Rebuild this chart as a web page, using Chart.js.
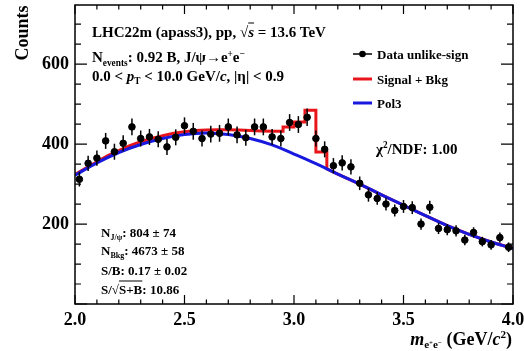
<!DOCTYPE html>
<html>
<head>
<meta charset="utf-8">
<script src="https://cdn.jsdelivr.net/npm/chart.js@4"></script>
<style>
  body { margin: 0; background: #fff; overflow: hidden; }
  #wrap { position: relative; width: 524px; height: 351px; }
  .t { position: absolute; font-family: "Liberation Serif", "Times New Roman", serif; font-weight: bold;
       color: #000; white-space: nowrap; line-height: 1; transform: translateY(-50%); }
  .t sub { font-size: 62%; vertical-align: -0.35em; }
  .t sup { font-size: 62%; vertical-align: 0.55em; }
  .ov { text-decoration: overline; }
</style>
</head>
<body>
<div id="wrap">
  <canvas id="myChart" width="524" height="351"></canvas>

  <div class="t" style="left:10px;top:33px;font-size:18px;transform:translate(0,-50%) rotate(-90deg);transform-origin:center;width:58px;margin-left:-17px;text-align:center;">Counts</div>

  <div class="t" style="left:92px;top:32px;font-size:15px;">LHC22m (apass3), pp, &#8730;<span class="ov"><i>s</i></span> = 13.6 TeV</div>
  <div class="t" style="left:92px;top:59px;font-size:15px;">N<sub>events</sub>: 0.92 B, J/&psi;&rarr;e<sup>+</sup>e<sup>&minus;</sup></div>
  <div class="t" style="left:92px;top:78px;font-size:15px;">0.0 &lt; <i>p</i><sub>T</sub> &lt; 10.0 GeV/<i>c</i>, |&eta;| &lt; 0.9</div>

  <div class="t" style="left:377px;top:54px;font-size:13px;">Data unlike-sign</div>
  <div class="t" style="left:377px;top:79px;font-size:13px;">Signal + Bkg</div>
  <div class="t" style="left:377px;top:103px;font-size:13px;">Pol3</div>

  <div class="t" style="left:376px;top:149px;font-size:15px;">&chi;<sup>2</sup>/NDF: 1.00</div>

  <div class="t" style="left:101px;top:234px;font-size:13px;">N<sub>J/&psi;</sub>: 804 &plusmn; 74</div>
  <div class="t" style="left:101px;top:252px;font-size:13px;">N<sub>Bkg</sub>: 4673 &plusmn; 58</div>
  <div class="t" style="left:101px;top:270px;font-size:13px;">S/B: 0.17 &plusmn; 0.02</div>
  <div class="t" style="left:101px;top:289px;font-size:13px;">S/&#8730;<span class="ov">S+B</span>: 10.86</div>

  <div class="t" style="right:12px;top:340px;font-size:18px;"><i>m</i><sub>e<sup>+</sup>e<sup>&minus;</sup></sub> (GeV/<i>c</i><sup>2</sup>)</div>
</div>

<script>
// invariant mass bin centres (GeV/c^2), 0.04 wide
const massBins = [2.02, 2.06, 2.10, 2.14, 2.18, 2.22, 2.26, 2.30, 2.34, 2.38,
  2.42, 2.46, 2.50, 2.54, 2.58, 2.62, 2.66, 2.70, 2.74, 2.78,
  2.82, 2.86, 2.90, 2.94, 2.98, 3.02, 3.06, 3.10, 3.14, 3.18,
  3.22, 3.26, 3.30, 3.34, 3.38, 3.42, 3.46, 3.50, 3.54, 3.58,
  3.62, 3.66, 3.70, 3.74, 3.78, 3.82, 3.86, 3.90, 3.94, 3.98];
const counts = [312, 352, 365, 408, 381, 402, 443, 414, 418, 412,
  393, 417, 446, 432, 414, 425, 427, 443, 423, 416,
  443, 443, 418, 414, 454, 449, 467, 414, 387, 346,
  353, 343, 302, 273, 264, 250, 234, 244, 241, 200,
  242, 189, 186, 183, 160, 179, 156, 148, 166, 142];
const countErr = [18, 19, 19, 20, 20, 20, 21, 20, 20, 20,
  20, 20, 21, 21, 20, 21, 21, 21, 21, 20,
  21, 21, 20, 20, 21, 21, 22, 20, 20, 19,
  19, 19, 17, 17, 16, 16, 15, 16, 16, 14,
  16, 14, 14, 14, 13, 13, 12, 12, 13, 12];

// background fit (pol3)
const pol3X = [2.0, 2.1, 2.2, 2.3, 2.4, 2.5, 2.6, 2.7, 2.8, 2.9, 3.0,
  3.1, 3.2, 3.3, 3.4, 3.5, 3.6, 3.7, 3.8, 3.9, 4.0];
const pol3Y = [322, 353, 379, 399, 414, 424, 428, 424, 414, 398, 375,
  351, 325, 300, 273, 247, 221, 196, 174, 155, 139];

// signal + background
const sigX = [2.00, 2.05, 2.10, 2.15, 2.20, 2.25, 2.30, 2.35, 2.40, 2.45,
  2.50, 2.55, 2.60, 2.65, 2.70, 2.75, 2.80, 2.85, 2.90, 2.95,
  2.95, 3.00, 3.00, 3.05, 3.05, 3.10, 3.10, 3.15, 3.15, 3.2,
  3.3, 3.4, 3.5, 3.6, 3.7, 3.8, 3.9, 4.0];
const sigY = [324, 340, 356, 371, 384, 396, 406, 414, 421, 427,
  431, 434, 435, 436, 436, 435, 434, 433, 432, 432,
  443, 443, 455, 455, 485, 485, 380, 380, 338, 325,
  300, 273, 247, 221, 196, 174, 155, 139];

const xTicks = [2.0, 2.5, 3.0, 3.5, 4.0];
const xTickLabels = ['2.0', '2.5', '3.0', '3.5', '4.0'];
const yTicks = [200, 400, 600];
const yTickLabels = ['200', '400', '600'];

const RED = 'rgb(232,22,26)';
const BLUE = 'rgb(24,24,222)';
const tickFont = { family: "'Liberation Serif', 'Times New Roman', serif", size: 18, weight: 'bold' };

// vertical error bars on the data points
const errorBars = {
  id: 'errorBars',
  afterDatasetsDraw(chart) {
    const { ctx, scales: { x, y } } = chart;
    ctx.save();
    ctx.strokeStyle = '#000';
    ctx.lineWidth = 1.5;
    massBins.forEach((m, i) => {
      const px = x.getPixelForValue(m);
      ctx.beginPath();
      ctx.moveTo(px, y.getPixelForValue(counts[i] - countErr[i]));
      ctx.lineTo(px, y.getPixelForValue(counts[i] + countErr[i]));
      ctx.stroke();
    });
    ctx.restore();
  }
};

// frame with inward ticks on all four sides, plus legend symbols
const frame = {
  id: 'frame',
  afterDraw(chart) {
    const { ctx, chartArea: a, scales: { x, y } } = chart;
    ctx.save();
    ctx.strokeStyle = '#000';
    ctx.lineWidth = 1.5;
    ctx.strokeRect(a.left, a.top, a.right - a.left, a.bottom - a.top);
    ctx.lineWidth = 1.2;
    ctx.beginPath();
    for (let k = 0; k <= 20; k++) {
      const px = x.getPixelForValue(2 + k * 0.1);
      const len = k % 5 === 0 ? 9 : 4.5;
      ctx.moveTo(px, a.bottom); ctx.lineTo(px, a.bottom - len);
      ctx.moveTo(px, a.top); ctx.lineTo(px, a.top + len);
    }
    for (let v = 0; v <= 740; v += 50) {
      const py = y.getPixelForValue(v);
      const len = v % 200 === 0 ? 12 : 6;
      ctx.moveTo(a.left, py); ctx.lineTo(a.left + len, py);
      ctx.moveTo(a.right, py); ctx.lineTo(a.right - len, py);
    }
    ctx.stroke();

    // legend
    ctx.lineWidth = 1.5;
    ctx.beginPath();
    ctx.moveTo(353, 54); ctx.lineTo(372, 54);
    ctx.stroke();
    ctx.fillStyle = '#000';
    ctx.beginPath();
    ctx.arc(362.5, 54, 3.3, 0, Math.PI * 2);
    ctx.fill();
    ctx.lineWidth = 3;
    ctx.strokeStyle = RED;
    ctx.beginPath(); ctx.moveTo(353, 79); ctx.lineTo(372, 79); ctx.stroke();
    ctx.strokeStyle = BLUE;
    ctx.beginPath(); ctx.moveTo(353, 103); ctx.lineTo(372, 103); ctx.stroke();
    ctx.restore();
  }
};

new Chart(document.getElementById('myChart'), {
  type: 'scatter',
  data: {
    datasets: [
      {
        label: 'Data unlike-sign',
        data: massBins.map((m, i) => ({ x: m, y: counts[i] })),
        backgroundColor: '#000',
        borderColor: '#000',
        pointRadius: 3.3,
        order: 0
      },
      {
        label: 'Pol3',
        data: pol3X.map((m, i) => ({ x: m, y: pol3Y[i] })),
        showLine: true,
        borderColor: BLUE,
        borderWidth: 3,
        pointRadius: 0,
        tension: 0.4,
        order: 1
      },
      {
        label: 'Signal + Bkg',
        data: sigX.map((m, i) => ({ x: m, y: sigY[i] })),
        showLine: true,
        borderColor: RED,
        borderWidth: 3,
        pointRadius: 0,
        tension: 0,
        order: 2
      }
    ]
  },
  options: {
    responsive: false,
    animation: false,
    layout: { padding: { top: 5, right: 11, left: 0, bottom: 0 } },
    plugins: { legend: { display: false }, tooltip: { enabled: false } },
    scales: {
      x: {
        type: 'linear',
        min: 2.0,
        max: 4.0,
        grid: { display: false, drawTicks: false },
        border: { display: false },
        afterBuildTicks: s => { s.ticks = xTicks.map(v => ({ value: v })); },
        afterFit: s => { s.height = 47; s.paddingLeft = 0; s.paddingRight = 0; },
        ticks: {
          color: '#000',
          font: tickFont,
          padding: 6,
          maxRotation: 0,
          callback: v => xTickLabels[xTicks.indexOf(v)]
        }
      },
      y: {
        min: 0,
        max: 748,
        grid: { display: false, drawTicks: false },
        border: { display: false },
        afterBuildTicks: s => { s.ticks = yTicks.map(v => ({ value: v })); },
        afterFit: s => { s.width = 75; s.paddingTop = 0; s.paddingBottom = 0; },
        ticks: {
          color: '#000',
          font: tickFont,
          padding: 6,
          callback: v => yTickLabels[yTicks.indexOf(v)]
        }
      }
    }
  },
  plugins: [errorBars, frame]
});
</script>
</body>
</html>
